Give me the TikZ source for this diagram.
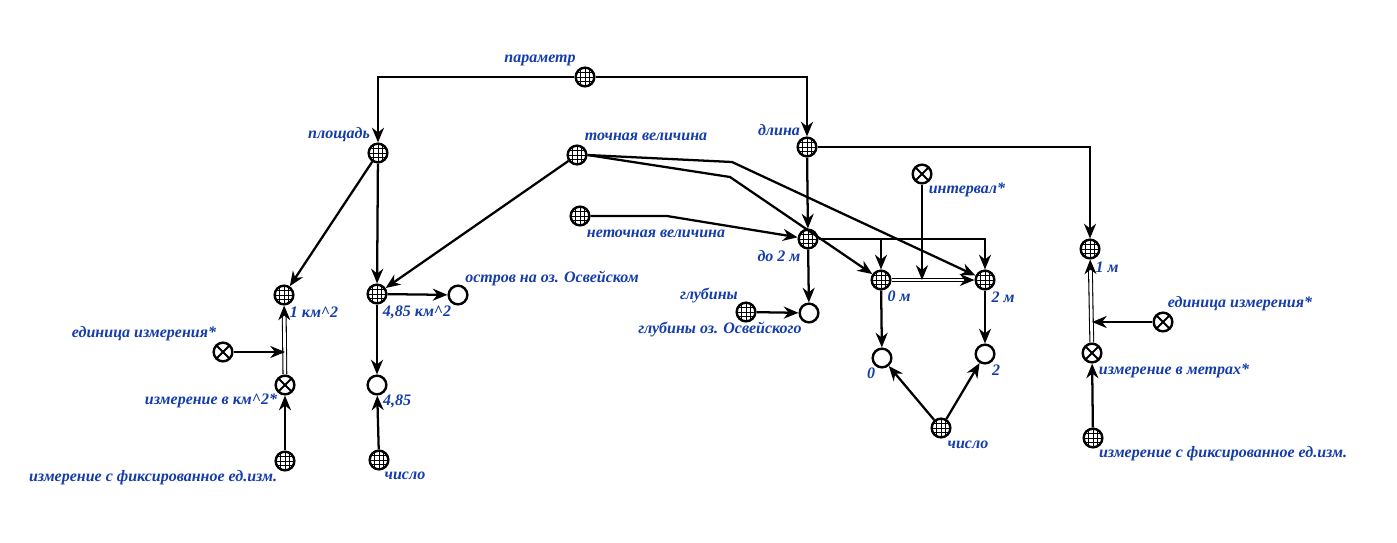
\documentclass[tikz,border=0pt]{standalone}
\usepackage{fontspec}
\setmainfont{Liberation Serif}
\usetikzlibrary{arrows.meta}
\definecolor{lblue}{RGB}{20,60,170}
\tikzset{
  base/.style={circle, draw=black, line width=1.8pt, minimum size=14pt, inner sep=0pt, fill=white},
  g/.style={base, path picture={
     \foreach \q in {-3.3,0,3.3}{
       \draw[line width=0.6pt] ([xshift=\q pt]path picture bounding box.north) -- ([xshift=\q pt]path picture bounding box.south);
       \draw[line width=0.6pt] ([yshift=\q pt]path picture bounding box.east) -- ([yshift=\q pt]path picture bounding box.west);}}},
  xo/.style={base, path picture={
     \draw[line width=1.5pt] (path picture bounding box.north west) -- (path picture bounding box.south east);
     \draw[line width=1.5pt] (path picture bounding box.north east) -- (path picture bounding box.south west);}},
  eo/.style={base},
  lab/.style={text=lblue, font=\bfseries\itshape\fontsize{12}{14}\selectfont, inner sep=0pt},
  arr/.style={line width=1.7pt, -{Stealth[length=11pt, width=9pt, inset=3.5pt]}},
  dbl/.style={draw=black, line width=0.8pt, double=white, double distance=2pt, -{Stealth[length=11pt, width=9pt, inset=3.5pt]}},
}
\begin{document}
\begin{tikzpicture}[x=0.75pt, y=-0.75pt]
\useasboundingbox (0,0) rectangle (1397,543);
% nodes
\node[g] (P) at (585,77) {};
\node[g] (A) at (378,153) {};
\node[g] (T) at (577,155) {};
\node[g] (L) at (807,147) {};
\node[g] (N) at (580,216) {};
\node[xo] (I) at (922,174) {};
\node[g] (D) at (808,239) {};
\node[g] (M1) at (1090,249) {};
\node[g] (K1) at (284,295) {};
\node[g] (K4) at (377,294) {};
\node[eo] (O) at (458,295) {};
\node[g] (G) at (746,312) {};
\node[eo] (GO) at (809,313) {};
\node[g] (Z) at (881,280) {};
\node[g] (Tw) at (985,280) {};
\node[xo] (U1) at (223,352) {};
\node[xo] (U2) at (1163,322) {};
\node[xo] (X1) at (285,385) {};
\node[xo] (X2) at (1092,353) {};
\node[eo] (E0) at (882,358) {};
\node[eo] (E2) at (985,354) {};
\node[eo] (E4) at (377,385) {};
\node[g] (C2) at (941,428) {};
\node[g] (F2) at (1093,438) {};
\node[g] (F1) at (285,461) {};
\node[g] (C1) at (379,460) {};
% labels
\node[lab] (lP) at (540,60) {параметр};
\node[lab] (lA) at (339,135) {площадь};
\node[lab] (lT) at (646,137) {точная величина};
\node[lab] (lL) at (779,130) {длина};
\node[lab] (lN) at (656,234) {неточная величина};
\node[lab] (lD) at (779,256) {до 2 м};
\node[lab] (lI) at (967,190) {интервал*};
\node[lab] (lO) at (552,278) {остров на оз. Освейском};
\node[lab] (lK4) at (417,312) {4,85 км\textasciicircum 2};
\node[lab] (lG) at (709,295) {глубины};
\node[lab] (lGO) at (720,329) {глубины оз. Освейского};
\node[lab] (lZ) at (899,296) {0 м};
\node[lab] (lTw) at (1003,297) {2 м};
\node[lab] (lE0) at (871,373) {0};
\node[lab] (lE2) at (996,370) {2};
\node[lab] (lC2) at (968,445) {число};
\node[lab] (lK1) at (314,312) {1 км\textasciicircum 2};
\node[lab] (lU1) at (144,334) {единица измерения*};
\node[lab] (lX1) at (211,401) {измерение в км\textasciicircum 2*};
\node[lab] (lE4) at (397,401) {4,85};
\node[lab] (lF1) at (153,478) {измерение с фиксированное ед.изм.};
\node[lab] (lC1) at (405,476) {число};
\node[lab] (lM1) at (1107,267) {1 м};
\node[lab] (lU2) at (1240,304) {единица измерения*};
\node[lab] (lX2) at (1174,371) {измерение в метрах*};
\node[lab] (lF2) at (1223,454) {измерение с фиксированное ед.изм.};
% helper coordinates
\coordinate (tz) at (730,177);
\coordinate (tt) at (732,162);
\coordinate (nd) at (667,216);
% edges
\draw[arr] (P.west) -| (A.north);
\draw[arr] (P.east) -| (L.north);
\draw[arr] (L.east) -| (M1.north);
\draw[arr] (A) -- (K1);
\draw[arr] (A) -- (K4);
\draw[arr] (T) -- (K4);
\draw[arr] (T.east) -- (tz) -- (Z);
\draw[arr] (T.east) -- (tt) -- (Tw);
\draw[arr] (N.east) -- (nd) -- (D);
\draw[arr] (L) -- (D);
\draw[arr] (D.east) -| (Z.north);
\draw[arr] (D.east) -| (Tw.north);
\draw[arr] (D) -- (GO);
\draw[arr] (G) -- (GO);
\draw[arr] (K4) -- (O);
\draw[arr] (K4) -- (E4);
\draw[dbl] (Z) -- (Tw);
\draw[arr] (I) -- (I |- Z);
\draw[arr] (Z) -- (E0);
\draw[arr] (Tw) -- (E2);
\draw[arr] (C2) -- (E0);
\draw[arr] (C2) -- (E2);
\draw[arr] (C1) -- (E4);
\draw[arr] (F1) -- (X1);
\draw[dbl] (X1) -- (K1);
\draw[arr] (U1) -- (X1 |- U1);
\draw[arr] (F2) -- (X2);
\draw[dbl] (X2) -- (M1);
\draw[arr] (U2) -- (X2 |- U2);
\end{tikzpicture}
\end{document}
